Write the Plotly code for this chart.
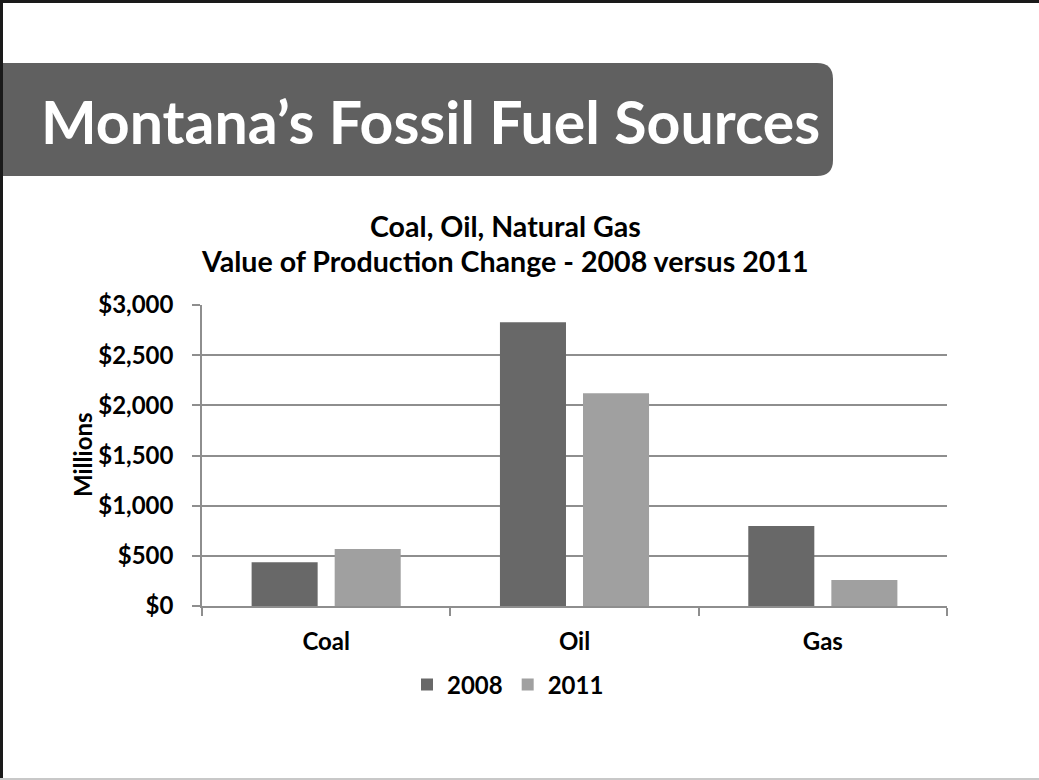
import plotly.graph_objects as go

categories = ["Coal", "Oil", "Gas"]
series_names = ["2008", "2011"]
values_2008 = [437, 2828, 797]
values_2011 = [568, 2121, 259]
y_tick_values = [0, 500, 1000, 1500, 2000, 2500, 3000]

W, H = 1039, 780
L, R, T, B = 202, 947, 305, 606  # plot area in pixels


def px(x):
    return (x - L) / (R - L)


def py(y):
    return (B - y) / (B - T)


FONT = "Lato, Open Sans, sans-serif"

fig = go.Figure()
fig.add_trace(go.Bar(name=series_names[0], x=categories, y=values_2008,
                     marker=dict(color="#686868", line=dict(width=0))))
fig.add_trace(go.Bar(name=series_names[1], x=categories, y=values_2011,
                     marker=dict(color="#a0a0a0", line=dict(width=0))))

axis_col = "#8e8e8e"

# banner path with rounded right corners
bx0, bx1, by0, by1, rr = 3, 833, 63, 176, 16
banner = (f"M {px(bx0)},{py(by0)} L {px(bx1-rr)},{py(by0)} "
          f"Q {px(bx1)},{py(by0)} {px(bx1)},{py(by0+rr)} "
          f"L {px(bx1)},{py(by1-rr)} "
          f"Q {px(bx1)},{py(by1)} {px(bx1-rr)},{py(by1)} "
          f"L {px(bx0)},{py(by1)} Z")

shapes = [
    dict(type="path", xref="paper", yref="paper", path=banner,
         fillcolor="#606060", line=dict(width=0), layer="below"),
    # slide border
    dict(type="line", xref="paper", yref="paper", x0=px(0), x1=px(W), y0=py(1.5), y1=py(1.5),
         line=dict(color="#1a1a1a", width=3)),
    dict(type="line", xref="paper", yref="paper", x0=px(1.5), x1=px(1.5), y0=py(0), y1=py(H),
         line=dict(color="#1a1a1a", width=3)),
    dict(type="line", xref="paper", yref="paper", x0=px(0), x1=px(W), y0=py(779), y1=py(779),
         line=dict(color="#c8c8c8", width=2)),
]

annotations = [
    dict(text="Montana’s Fossil Fuel Sources", xref="paper", yref="paper",
         x=px(39), y=py(121), xanchor="left", yanchor="middle", showarrow=False,
         font=dict(family=FONT, size=59, color="white", weight="bold")),
    dict(text="Coal, Oil, Natural Gas", xref="paper", yref="paper",
         x=px(505), y=py(226), xanchor="center", yanchor="middle", showarrow=False,
         font=dict(family=FONT, size=28.6, color="black", weight="bold")),
    dict(text="Value of Production Change - 2008 versus 2011", xref="paper", yref="paper",
         x=px(505), y=py(261), xanchor="center", yanchor="middle", showarrow=False,
         font=dict(family=FONT, size=28.6, color="black", weight="bold")),
    dict(text="Millions", xref="paper", yref="paper", textangle=-90,
         x=px(82), y=py(455), xanchor="center", yanchor="middle", showarrow=False,
         font=dict(family=FONT, size=24, color="black", weight="bold")),
]

fig.update_layout(
    width=W, height=H,
    margin=dict(l=L, r=W - R, t=T, b=H - B, pad=0),
    paper_bgcolor="white", plot_bgcolor="white",
    barmode="group", bargap=0.331, bargroupgap=0.205,
    shapes=shapes, annotations=annotations,
    showlegend=True,
    legend=dict(orientation="h", x=px(508), xanchor="center", y=py(685), yanchor="middle",
                font=dict(family=FONT, size=24, color="black", weight="bold"),
                itemwidth=30, bgcolor="rgba(0,0,0,0)", traceorder="normal"),
    xaxis=dict(showline=True, linecolor=axis_col, linewidth=1.5, ticks="outside",
               tickson="boundaries", ticklen=8, tickcolor=axis_col, tickwidth=1.5,
               showgrid=False, ticklabelstandoff=13,
               tickfont=dict(family=FONT, size=24, color="black", weight="bold")),
    yaxis=dict(range=[0, 3000], tickvals=y_tick_values, tickformat="$,.0f",
               showline=True, linecolor=axis_col, linewidth=1.5, ticks="outside",
               ticklen=8, tickcolor=axis_col, tickwidth=1.5,
               showgrid=True, gridcolor=axis_col, gridwidth=1.5, zeroline=False,
               ticklabelstandoff=14,
               tickfont=dict(family=FONT, size=24, color="black", weight="bold")),
)

fig.write_html("out.html", config={"displayModeBar": False},
               post_script="document.body.style.margin='0px';document.body.style.overflow='hidden';")
